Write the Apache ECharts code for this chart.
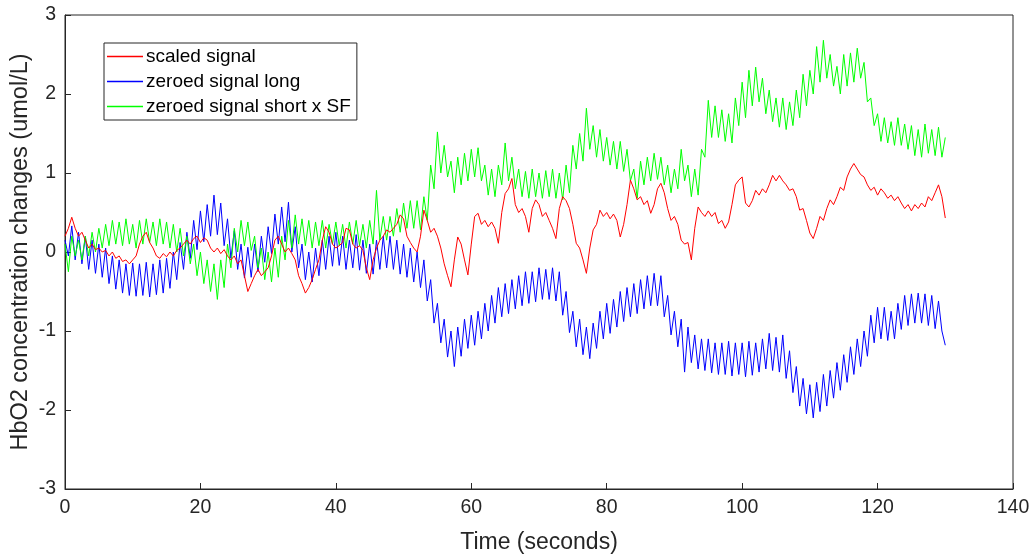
<!DOCTYPE html>
<html>
<head>
<meta charset="utf-8">
<script src="https://cdn.jsdelivr.net/npm/echarts@6/dist/echarts.min.js"></script>
<style>
  html, body { margin: 0; padding: 0; background: #fff; }
  #chart { width: 1035px; height: 554px; }
</style>
</head>
<body>
<div id="chart"></div>
<script>
// samples every 0.5 s, from 0 to 130 s (one row = 5 seconds)
var sampleStep = 0.5;

var scaledSignal = [
  0.2,0.3,0.44,0.3,0.2,0.25,0.15,0.05,0.1,0.03,
  0.05,0.0,0.02,-0.05,0.0,-0.08,-0.05,-0.12,-0.1,-0.15,
  -0.1,-0.05,0.1,0.2,0.25,0.12,0.05,-0.05,-0.08,-0.02,
  -0.06,0.0,-0.05,0.02,0.05,0.1,0.15,0.1,0.17,0.2,
  0.12,0.18,0.15,0.05,0.0,0.05,-0.02,0.03,-0.05,-0.1,
  -0.05,-0.15,-0.1,-0.3,-0.5,-0.4,-0.3,-0.22,-0.3,-0.25,
  -0.2,-0.05,0.15,0.2,0.1,0.0,0.05,-0.02,-0.1,-0.3,
  -0.4,-0.52,-0.45,-0.35,-0.22,-0.1,0.15,0.32,0.25,0.1,
  0.05,0.08,0.12,0.3,0.28,0.1,0.05,0.08,0.02,-0.2,
  -0.35,-0.1,0.05,0.15,0.2,0.28,0.25,0.3,0.35,0.47,
  0.42,0.2,0.12,0.05,0.0,0.2,0.53,0.4,0.25,0.3,
  0.2,0.05,-0.15,-0.3,-0.44,-0.1,0.19,0.1,-0.1,-0.29,
  0.1,0.45,0.49,0.35,0.4,0.32,0.38,0.3,0.11,0.5,
  0.74,0.8,0.93,0.6,0.5,0.55,0.45,0.25,0.55,0.66,
  0.6,0.45,0.5,0.4,0.3,0.17,0.55,0.7,0.65,0.55,
  0.35,0.11,0.05,-0.1,-0.27,0.05,0.28,0.35,0.53,0.45,
  0.5,0.42,0.48,0.4,0.19,0.35,0.6,0.91,0.8,0.66,
  0.7,0.6,0.65,0.49,0.6,0.8,0.87,0.75,0.55,0.4,
  0.45,0.35,0.15,0.1,0.12,-0.1,0.3,0.57,0.5,0.45,
  0.52,0.45,0.5,0.36,0.4,0.3,0.38,0.6,0.85,0.91,
  0.95,0.62,0.57,0.65,0.78,0.72,0.8,0.75,0.85,0.97,
  0.9,0.97,0.9,0.85,0.78,0.8,0.7,0.53,0.55,0.4,
  0.24,0.17,0.3,0.45,0.4,0.55,0.66,0.6,0.7,0.82,
  0.78,0.95,1.05,1.12,1.05,0.98,0.95,0.85,0.78,0.82,
  0.72,0.8,0.75,0.68,0.72,0.65,0.7,0.62,0.55,0.6,
  0.52,0.6,0.55,0.62,0.57,0.7,0.65,0.75,0.85,0.7,
  0.43
];

var zeroedLong = [
  0.15,-0.05,0.33,-0.1,0.25,-0.15,0.2,-0.22,0.15,-0.27,
  0.1,-0.32,0.05,-0.4,-0.05,-0.47,-0.1,-0.52,-0.15,-0.55,
  -0.14,-0.56,-0.15,-0.55,-0.13,-0.57,-0.15,-0.54,-0.1,-0.52,
  -0.08,-0.46,0.0,-0.35,0.12,-0.22,0.25,-0.08,0.4,0.03,
  0.52,0.13,0.6,0.2,0.72,0.22,0.62,0.08,0.42,-0.08,
  0.27,-0.22,0.1,-0.33,0.06,-0.32,0.1,-0.25,0.2,-0.13,
  0.32,-0.02,0.48,0.1,0.57,0.13,0.63,0.0,0.32,-0.2,
  0.1,-0.35,0.0,-0.38,0.05,-0.3,0.15,-0.22,0.2,-0.18,
  0.25,-0.17,0.2,-0.22,0.15,-0.2,0.22,-0.23,0.15,-0.27,
  0.1,-0.28,0.15,-0.22,0.2,-0.2,0.2,-0.22,0.15,-0.28,
  0.1,-0.32,0.05,-0.38,0.0,-0.45,-0.1,-0.62,-0.35,-0.9,
  -0.65,-1.15,-0.85,-1.33,-1.0,-1.45,-0.95,-1.32,-0.85,-1.22,
  -0.8,-1.18,-0.75,-1.1,-0.65,-1.0,-0.55,-0.9,-0.45,-0.82,
  -0.4,-0.78,-0.35,-0.72,-0.3,-0.68,-0.25,-0.65,-0.25,-0.63,
  -0.2,-0.6,-0.22,-0.6,-0.2,-0.62,-0.25,-0.8,-0.5,-1.02,
  -0.75,-1.2,-0.85,-1.3,-0.95,-1.35,-0.9,-1.22,-0.75,-1.1,
  -0.65,-1.03,-0.6,-0.95,-0.5,-0.88,-0.45,-0.82,-0.4,-0.78,
  -0.35,-0.72,-0.3,-0.68,-0.27,-0.68,-0.3,-0.82,-0.55,-1.05,
  -0.75,-1.2,-0.85,-1.52,-0.95,-1.4,-1.05,-1.48,-1.1,-1.5,
  -1.1,-1.53,-1.15,-1.55,-1.15,-1.55,-1.13,-1.57,-1.15,-1.55,
  -1.15,-1.58,-1.13,-1.56,-1.15,-1.52,-1.1,-1.48,-1.03,-1.5,
  -1.08,-1.52,-1.05,-1.6,-1.25,-1.78,-1.45,-1.95,-1.6,-2.05,
  -1.68,-2.1,-1.65,-2.02,-1.55,-1.95,-1.5,-1.85,-1.4,-1.75,
  -1.3,-1.65,-1.2,-1.55,-1.1,-1.45,-1.0,-1.32,-0.8,-1.15,
  -0.7,-1.1,-0.7,-1.12,-0.75,-1.1,-0.65,-0.98,-0.55,-0.93,
  -0.53,-0.9,-0.52,-0.9,-0.53,-0.93,-0.55,-0.97,-0.62,-1.0,
  -1.18
];

var zeroedShortSF = [
  0.1,-0.25,0.2,-0.05,0.15,-0.1,0.2,-0.05,0.25,0.0,
  0.3,0.05,0.35,0.08,0.4,0.1,0.38,0.08,0.42,0.1,
  0.35,0.05,0.4,0.1,0.42,0.12,0.38,0.08,0.42,0.1,
  0.38,0.05,0.35,0.0,0.3,-0.05,0.2,-0.15,0.1,-0.3,
  0.0,-0.4,-0.1,-0.5,-0.15,-0.6,-0.1,-0.45,0.1,-0.2,
  0.3,0.0,0.4,0.08,0.38,0.02,0.2,-0.2,0.05,-0.35,
  0.0,-0.38,0.05,-0.32,0.2,-0.1,0.4,0.05,0.47,0.1,
  0.42,0.08,0.4,0.05,0.38,0.08,0.4,0.05,0.35,0.1,
  0.38,0.08,0.35,0.05,0.38,0.1,0.4,0.08,0.35,0.05,
  0.4,0.1,0.78,0.15,0.45,0.15,0.45,0.2,0.55,0.25,
  0.62,0.3,0.65,0.3,0.65,0.28,0.7,0.4,1.1,0.8,
  1.52,1.0,1.35,0.95,1.15,0.75,1.2,0.85,1.25,0.9,
  1.3,0.95,1.32,0.9,1.1,0.72,1.05,0.7,1.1,0.85,
  1.38,0.9,1.2,0.8,1.05,0.7,1.02,0.68,1.05,0.7,
  1.0,0.68,1.03,0.7,1.05,0.68,1.0,0.66,1.1,0.75,
  1.35,1.05,1.5,1.15,1.82,1.3,1.6,1.2,1.55,1.15,
  1.45,1.1,1.4,1.05,1.4,1.02,1.3,0.9,1.05,0.68,
  1.15,0.85,1.2,0.9,1.25,0.92,1.2,0.85,1.1,0.75,
  1.05,0.8,1.3,0.9,1.1,0.7,1.05,0.72,1.3,1.2,
  1.92,1.45,1.85,1.45,1.8,1.4,1.75,1.38,1.95,1.6,
  2.15,1.7,2.3,1.85,2.34,1.9,2.2,1.75,2.05,1.65,
  1.95,1.58,1.95,1.55,1.9,1.6,2.05,1.7,2.25,1.85,
  2.3,2.0,2.6,2.15,2.68,2.2,2.5,2.1,2.35,2.0,
  2.5,2.1,2.52,2.15,2.58,2.2,2.4,1.9,1.95,1.6,
  1.75,1.4,1.7,1.38,1.65,1.35,1.7,1.35,1.62,1.3,
  1.6,1.22,1.55,1.2,1.62,1.25,1.55,1.22,1.58,1.2,
  1.45
];

var seriesNames = ['scaled signal', 'zeroed signal long', 'zeroed signal short x SF'];
var seriesColors = ['#ff0000', '#0000ff', '#00ff00'];

function toPairs(values) {
  return values.map(function (v, i) { return [i * sampleStep, v]; });
}

var dom = document.getElementById('chart');
var myChart = echarts.init(dom);
var font = 'Arial, "Liberation Sans", Helvetica, sans-serif';

var option = {
  animation: false,
  backgroundColor: '#ffffff',
  grid: {
    left: 65, right: 22, top: 15, bottom: 65,
    outerBoundsMode: 'none',
    containLabel: false,
    show: true, borderColor: '#262626', borderWidth: 1, backgroundColor: '#ffffff'
  },
  legend: {
    orient: 'vertical',
    left: 104, top: 43,
    data: seriesNames,
    icon: 'rect',
    itemWidth: 36, itemHeight: 1.5,
    itemGap: 6,
    padding: [4, 6, 4, 3],
    borderColor: '#262626', borderWidth: 1,
    backgroundColor: '#ffffff',
    textStyle: { fontFamily: font, fontSize: 19, color: '#000', padding: [0, 0, 0, -2] }
  },
  xAxis: {
    type: 'value', min: 0, max: 140, interval: 20,
    name: 'Time (seconds)', nameLocation: 'middle', nameGap: 42,
    nameMoveOverlap: false,
    nameTextStyle: { fontFamily: font, fontSize: 23, color: '#262626' },
    axisLine: { show: true, onZero: false, lineStyle: { color: '#262626', width: 1 } },
    axisTick: { inside: true, length: 6, lineStyle: { color: '#262626' } },
    axisLabel: { fontFamily: font, fontSize: 19.5, color: '#262626', margin: 9 },
    splitLine: { show: false }
  },
  yAxis: {
    type: 'value', min: -3, max: 3, interval: 1,
    name: 'HbO2 concentration changes (umol/L)', nameLocation: 'middle', nameGap: 32,
    nameMoveOverlap: false,
    nameTextStyle: { fontFamily: font, fontSize: 23.5, color: '#262626' },
    axisLine: { show: true, lineStyle: { color: '#262626', width: 1 } },
    axisTick: { inside: true, length: 6, lineStyle: { color: '#262626' } },
    axisLabel: { fontFamily: font, fontSize: 19.5, color: '#262626', margin: 9 },
    splitLine: { show: false }
  },
  series: [scaledSignal, zeroedLong, zeroedShortSF].map(function (vals, k) {
    return {
      name: seriesNames[k],
      type: 'line',
      data: toPairs(vals),
      symbol: 'none',
      color: seriesColors[k],
      lineStyle: { color: seriesColors[k], width: 1 },
      z: k === 0 ? 4 : 3
    };
  })
};

myChart.setOption(option);
</script>
</body>
</html>
